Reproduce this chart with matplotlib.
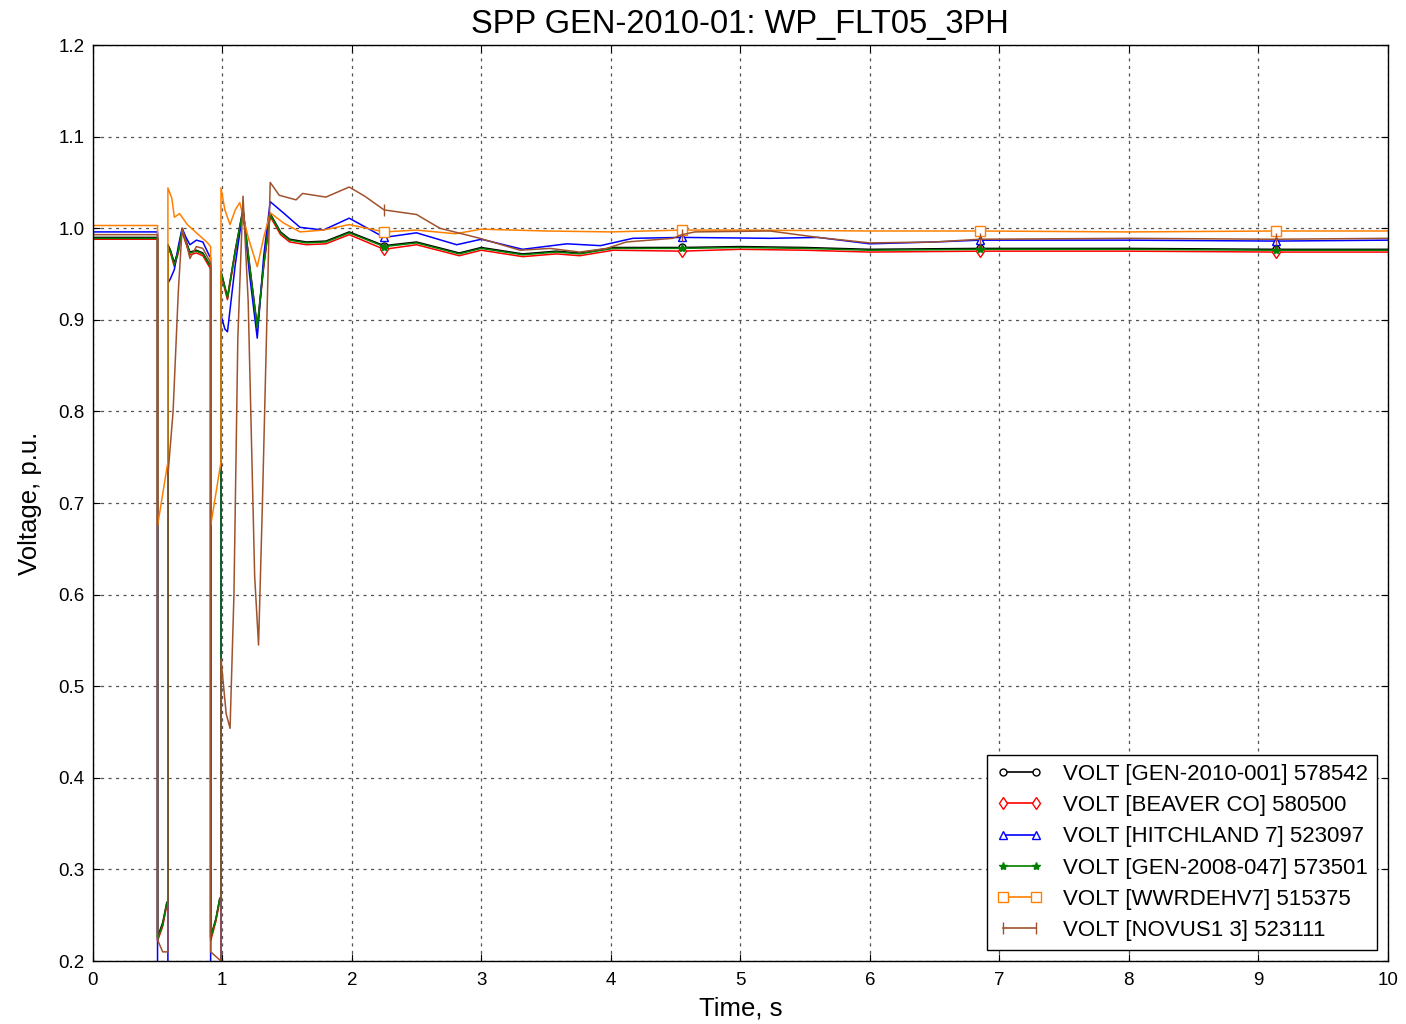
import numpy as np
import matplotlib
matplotlib.use("Agg")
import matplotlib.pyplot as plt
from matplotlib.lines import Line2D

plt.rcParams['font.family'] = ['Liberation Sans', 'DejaVu Sans']

title = "SPP GEN-2010-01: WP_FLT05_3PH"
xlabel = "Time, s"
ylabel = "Voltage, p.u."
labels = ["VOLT [GEN-2010-001] 578542", "VOLT [BEAVER CO] 580500",
          "VOLT [HITCHLAND 7] 523097", "VOLT [GEN-2008-047] 573501",
          "VOLT [WWRDEHV7] 515375", "VOLT [NOVUS1 3] 523111"]
marker_times = [2.25, 4.55, 6.85, 9.14]

t_gen = [0, 0.5, 0.5, 0.54, 0.57, 0.58, 0.58,
         0.6, 0.63, 0.66, 0.69, 0.72, 0.75, 0.8, 0.85, 0.9,
         0.91, 0.91, 0.95, 0.98, 0.99, 0.99,
         1.04, 1.1, 1.16, 1.21, 1.27, 1.32, 1.37, 1.45, 1.52, 1.65, 1.8, 1.98,
         2.25, 2.5, 2.83, 3.0, 3.32, 3.58, 3.76, 4.02, 4.55,
         5.0, 5.5, 6.0, 6.85, 7.5, 8.0, 9.14, 10.0]
v_black = [0.99, 0.99, 0.226, 0.242, 0.263, 0.266, 0.982,
           0.976, 0.962, 0.976, 0.999, 0.986, 0.974, 0.976, 0.973, 0.961,
           0.959, 0.226, 0.246, 0.268, 0.27, 0.953,
           0.925, 0.976, 1.021, 0.961, 0.893, 0.961, 1.016, 0.996, 0.988, 0.985, 0.986, 0.996,
           0.981, 0.985, 0.973, 0.979, 0.972, 0.975, 0.973, 0.979, 0.979,
           0.98, 0.979, 0.977, 0.978, 0.978, 0.978, 0.977, 0.977]
v_red = [0.988, 0.988, 0.222, 0.238, 0.26, 0.263, 0.978,
         0.973, 0.958, 0.973, 0.996, 0.983, 0.971, 0.973, 0.97, 0.958,
         0.956, 0.222, 0.243, 0.265, 0.268, 0.95,
         0.922, 0.973, 1.018, 0.958, 0.889, 0.958, 1.013, 0.993, 0.985, 0.982, 0.983, 0.993,
         0.977, 0.982, 0.97, 0.976, 0.969, 0.972, 0.97, 0.976, 0.975,
         0.977, 0.976, 0.974, 0.975, 0.975, 0.975, 0.974, 0.974]
v_green = [0.989, 0.989, 0.224, 0.24, 0.262, 0.265, 0.98,
           0.975, 0.96, 0.975, 0.998, 0.985, 0.973, 0.975, 0.972, 0.96,
           0.958, 0.225, 0.245, 0.268, 0.27, 0.952,
           0.924, 0.975, 1.02, 0.96, 0.891, 0.96, 1.015, 0.995, 0.987, 0.984, 0.985, 0.995,
           0.98, 0.984, 0.972, 0.978, 0.971, 0.974, 0.972, 0.978, 0.978,
           0.979, 0.978, 0.976, 0.977, 0.977, 0.977, 0.976, 0.976]

t_blue = [0, 0.5, 0.5, 0.58, 0.58,
          0.6, 0.63, 0.66, 0.69, 0.72, 0.75, 0.8, 0.85, 0.9,
          0.91, 0.91, 0.99, 0.99,
          1.02, 1.04, 1.1, 1.16, 1.21, 1.27, 1.32, 1.37, 1.47, 1.6, 1.78, 1.98,
          2.25, 2.5, 2.81, 3.0, 3.32, 3.66, 3.92, 4.17, 4.55,
          5.23, 5.6, 6.0, 6.5, 6.85, 8.0, 9.14, 10.0]
v_blue = [0.996, 0.996, 0.15, 0.15, 0.94,
          0.945, 0.955, 0.98, 1.0, 0.99, 0.982, 0.987, 0.985, 0.97,
          0.968, 0.15, 0.15, 0.905,
          0.89, 0.887, 0.96, 1.02, 0.95, 0.88, 0.97, 1.029, 1.017, 1.001, 0.998, 1.011,
          0.99, 0.995, 0.982, 0.988, 0.977, 0.983, 0.981, 0.989, 0.99,
          0.989, 0.99, 0.983, 0.985, 0.987, 0.987, 0.986, 0.987]

t_orange = [0, 0.5, 0.5, 0.58, 0.58,
            0.61, 0.63, 0.67, 0.695, 0.73, 0.8, 0.88, 0.91,
            0.91, 0.99, 0.99,
            1.02, 1.06, 1.1, 1.135, 1.2, 1.27, 1.32, 1.37, 1.47, 1.6, 1.78, 1.98,
            2.25, 2.5, 2.8, 3.0, 3.5, 4.0, 4.55,
            5.0, 6.0, 6.85, 8.0, 9.14, 10.0]
v_orange = [1.003, 1.003, 0.675, 0.745, 1.044,
            1.033, 1.012, 1.016, 1.011, 1.004, 0.995, 0.985, 0.98,
            0.675, 0.745, 1.044,
            1.02, 1.004, 1.02, 1.028, 0.99, 0.958, 0.99, 1.017, 1.006, 0.996, 0.998, 1.004,
            0.996, 0.998, 0.994, 0.999, 0.997, 0.996, 0.998,
            0.998, 0.997, 0.997, 0.996, 0.997, 0.997]

t_brown = [0, 0.5, 0.5, 0.54, 0.58, 0.58,
           0.62, 0.66, 0.69, 0.72, 0.75, 0.8, 0.85, 0.9, 0.91,
           0.91, 0.99, 0.99,
           1.03, 1.06, 1.09, 1.12, 1.16, 1.2, 1.25, 1.28, 1.31, 1.37, 1.44, 1.57, 1.62, 1.8, 1.98,
           2.1, 2.25, 2.5, 2.68, 2.99, 3.3, 3.53, 3.76, 3.97, 4.12, 4.48, 4.55, 4.65,
           5.23, 5.6, 6.0, 6.5, 6.85, 8.0, 9.14, 10.0]
v_brown = [0.993, 0.993, 0.223, 0.21, 0.21, 0.73,
           0.80, 0.93, 1.0, 0.985, 0.967, 0.98, 0.978, 0.965, 0.962,
           0.21, 0.2, 0.53,
           0.47, 0.454, 0.6, 0.88, 1.035, 0.92, 0.62, 0.545, 0.7, 1.05, 1.036, 1.031, 1.038, 1.034, 1.045,
           1.035, 1.02, 1.015, 1.0, 0.989, 0.976, 0.978, 0.974, 0.978, 0.985, 0.989, 0.993, 0.996,
           0.997, 0.99, 0.984, 0.985, 0.988, 0.989, 0.988, 0.989]

series = [
    (t_gen, v_black, 'k', 'o', 'white', 5),
    (t_gen, v_red, '#ff0000', 'd', 'white', 6),
    (t_blue, v_blue, '#0000ff', '^', 'white', 6),
    (t_gen, v_green, '#008000', '*', '#008000', 6),
    (t_orange, v_orange, '#ff8000', 's', 'white', 7),
    (t_brown, v_brown, '#a0522d', '|', '#a0522d', 9),
]

fig = plt.figure(figsize=(14.06, 10.24), dpi=100)
ax = fig.add_axes([0.066, 0.0615, 0.921, 0.8945])

handles = []
for (t, v, c, m, mfc, ms), lab in zip(series, labels):
    t = np.asarray(t)
    idx = [int(np.argmin(np.abs(t - mt))) for mt in marker_times]
    ax.plot(t, v, color=c, lw=1.1, marker=m, markevery=idx, mfc=mfc,
            mec=c, ms=ms, mew=1.0)
    handles.append(Line2D([], [], color=c, lw=1.2, marker=m, mfc=mfc,
                          mec=c, ms=ms, mew=1.0))

ax.set_xlim(0, 10)
ax.set_ylim(0.2, 1.2)
ax.set_xticks(np.arange(0, 11, 1))
ax.set_yticks(np.arange(0.2, 1.21, 0.1))
ax.set_yticklabels([f"{y:.1f}" for y in np.arange(0.2, 1.21, 0.1)])
ax.set_xticklabels([str(i) for i in range(11)])
ax.tick_params(direction='in', top=True, right=True, length=5, labelsize=13.5)
ax.tick_params(axis='x', pad=8)
ax.tick_params(axis='y', pad=6)
ax.grid(True, color='#555555', linestyle=(0, (2.5, 3.5)), lw=0.9)
for s in ax.spines.values():
    s.set_linewidth(1.0)

ax.set_title(title, fontsize=23.5, pad=9)
ax.set_xlabel(xlabel, fontsize=18.5, labelpad=5)
ax.set_ylabel(ylabel, fontsize=18.5, labelpad=12)

leg = ax.legend(handles, labels, loc='lower right', fontsize=16, numpoints=2,
                frameon=True, fancybox=False, framealpha=1, edgecolor='black',
                borderaxespad=0.5, handlelength=2.1, handletextpad=0.9,
                labelspacing=0.46, borderpad=0.4)
leg.get_frame().set_linewidth(1.0)

fig.savefig("out.png", dpi=100)
